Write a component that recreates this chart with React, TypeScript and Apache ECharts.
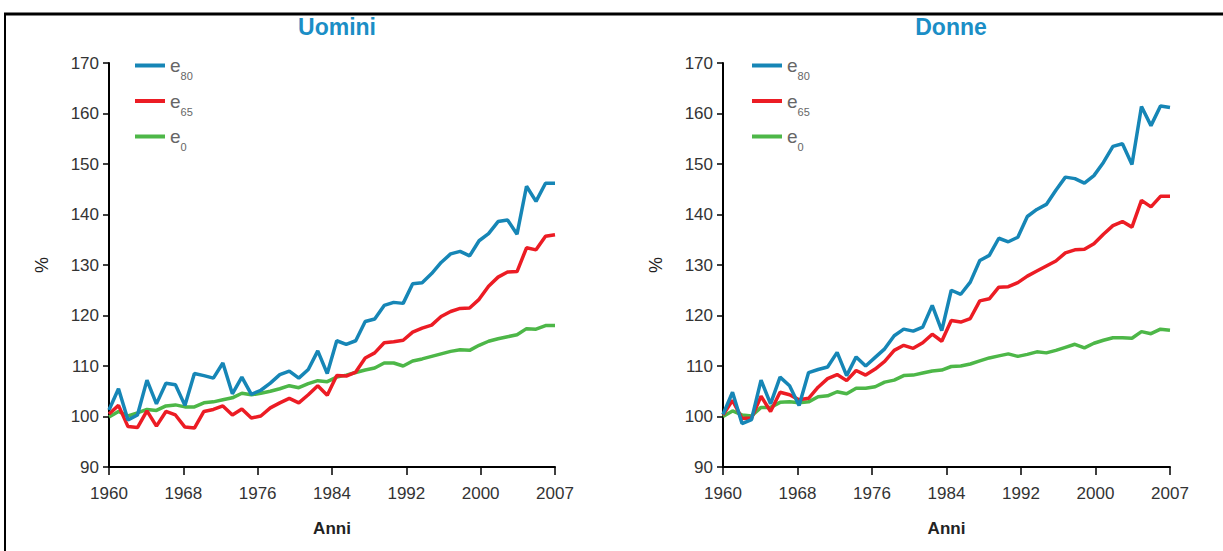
import React, { useEffect, useRef } from "react";
import * as echarts from "echarts";

const years = [
  "1960","1961","1962","1963","1964","1965","1966","1967","1968","1969",
  "1970","1971","1972","1973","1974","1975","1976","1977","1978","1979",
  "1980","1981","1982","1983","1984","1985","1986","1987","1988","1989",
  "1990","1991","1992","1993","1994","1995","1996","1997","1998","1999",
  "2000","2001","2002","2003","2004","2005","2006","2007",
];

const xTickLabels = ["1960", "1968", "1976", "1984", "1992", "2000", "2007"];

const menE80 = [
  101.3, 105.5, 99.3, 100.3, 107.2, 102.5, 106.6, 106.3, 102.2, 108.5,
  108.1, 107.6, 110.6, 104.5, 107.8, 104.4, 105.2, 106.6, 108.3, 109.0,
  107.6, 109.3, 113.0, 108.5, 115.0, 114.3, 115.0, 118.8, 119.3, 122.0,
  122.6, 122.4, 126.3, 126.5, 128.3, 130.5, 132.2, 132.7, 131.8, 134.8,
  136.2, 138.6, 138.9, 136.1, 145.6, 142.6, 146.2, 146.2,
];
const menE65 = [
  100.5, 102.2, 98.0, 97.8, 101.1, 98.1, 101.0, 100.3, 97.9, 97.7,
  101.0, 101.4, 102.1, 100.3, 101.5, 99.7, 100.1, 101.7, 102.7, 103.6,
  102.7, 104.3, 106.1, 104.2, 108.1, 108.0, 108.8, 111.6, 112.6, 114.6,
  114.8, 115.1, 116.7, 117.5, 118.1, 119.8, 120.8, 121.4, 121.5, 123.2,
  125.8, 127.6, 128.6, 128.7, 133.4, 133.0, 135.7, 136.0,
];
const menE0 = [
  99.9, 101.0, 100.1, 100.7, 101.4, 101.2, 102.1, 102.3, 101.9, 101.9,
  102.7, 102.9, 103.3, 103.7, 104.6, 104.3, 104.6, 105.0, 105.5, 106.1,
  105.7, 106.5, 107.1, 106.9, 107.8, 108.2, 108.7, 109.2, 109.6, 110.6,
  110.6, 110.0, 111.0, 111.4, 111.9, 112.4, 112.9, 113.2, 113.1, 114.1,
  114.9, 115.4, 115.8, 116.2, 117.4, 117.3, 118.0, 118.0,
];

const womenE80 = [
  100.4, 104.8, 98.6, 99.4, 107.2, 102.5, 107.8, 106.1, 102.2, 108.7,
  109.3, 109.8, 112.7, 108.1, 111.8, 110.0, 111.7, 113.4, 116.0, 117.3,
  116.9, 117.7, 122.0, 117.0, 125.0, 124.2, 126.6, 130.9, 131.9, 135.3,
  134.6, 135.5, 139.6, 141.0, 142.0, 144.8, 147.4, 147.1, 146.2, 147.7,
  150.3, 153.5, 154.0, 149.9, 161.4, 157.6, 161.5, 161.2,
];
const womenE65 = [
  100.3, 103.2, 99.6, 99.7, 104.0, 101.0, 104.8, 104.3, 103.3, 103.6,
  105.8, 107.5, 108.3, 107.1, 109.1, 108.2, 109.4, 110.9, 113.1, 114.1,
  113.5, 114.6, 116.3, 114.9, 119.0, 118.7, 119.4, 122.9, 123.3, 125.6,
  125.7, 126.5, 127.8, 128.8, 129.8, 130.8, 132.4, 133.0, 133.1, 134.2,
  136.1, 137.8, 138.6, 137.5, 142.8, 141.5, 143.6, 143.6,
];
const womenE0 = [
  100.0, 101.1, 100.3, 100.1, 101.8, 101.8, 102.8, 102.9, 102.7, 102.9,
  103.9, 104.1, 104.9, 104.5, 105.6, 105.6, 105.9, 106.8, 107.2, 108.1,
  108.2, 108.6, 109.0, 109.2, 109.9, 110.0, 110.4, 111.0, 111.6, 112.0,
  112.4, 111.9, 112.3, 112.8, 112.6, 113.1, 113.7, 114.3, 113.6, 114.5,
  115.1, 115.6, 115.6, 115.5, 116.8, 116.4, 117.3, 117.1,
];

const seriesNames = ["e80", "e65", "e0"];
const panelTitles = ["Uomini", "Donne"];

const FONT = "'Liberation Sans', Arial, sans-serif";
const BLUE = "#1686b6";
const RED = "#ec1c24";
const GREEN = "#4db748";
const TITLE_BLUE = "#1b8ec6";

export default function App() {
  const ref = useRef<HTMLDivElement>(null);

  useEffect(() => {
    if (!ref.current) return;
    const chart = echarts.init(ref.current, null, { renderer: "svg" });

    const grids = [
      { left: 109, top: 63, width: 446, height: 404 },
      { left: 723, top: 63, width: 447, height: 404 },
    ];

    const xAxes: any[] = [];
    const yAxes: any[] = [];
    grids.forEach((_, g) => {
      xAxes.push({
        type: "category",
        gridIndex: g,
        data: years,
        boundaryGap: false,
        position: "bottom",
        show: false,
      });
      xAxes.push({
        type: "value",
        gridIndex: g,
        position: "bottom",
        min: 0,
        max: xTickLabels.length - 1,
        interval: 1,
        axisLine: { show: true, onZero: false, lineStyle: { color: "#000", width: 2 } },
        axisTick: { show: true, length: 8, lineStyle: { color: "#000", width: 1.5 } },
        axisLabel: {
          formatter: (v: number) => xTickLabels[Math.round(v)] ?? "",
          fontSize: 17,
          color: "#333",
          fontFamily: FONT,
          margin: 18,
        },
        splitLine: { show: false },
        name: "Anni",
        nameLocation: "middle",
        nameGap: 53,
        nameTextStyle: { fontSize: 17, fontWeight: "bold", color: "#222", fontFamily: FONT },
      });
      yAxes.push({
        type: "value",
        gridIndex: g,
        min: 90,
        max: 170,
        interval: 10,
        axisLine: { show: true, onZero: false, lineStyle: { color: "#000", width: 2 } },
        axisTick: { show: true, length: 6, lineStyle: { color: "#000", width: 1.5 } },
        axisLabel: { fontSize: 17, color: "#333", fontFamily: FONT, margin: 10 },
        splitLine: { show: false },
        name: "%",
        nameLocation: "middle",
        nameGap: 58,
        nameRotate: 90,
        nameTextStyle: { fontSize: 18, color: "#222", fontFamily: FONT },
      });
    });

    const panelData = [
      [menE80, menE65, menE0],
      [womenE80, womenE65, womenE0],
    ];
    const colors = [BLUE, RED, GREEN];
    const series: any[] = [];
    panelData.forEach((arrs, g) => {
      arrs.forEach((arr, k) => {
        series.push({
          type: "line",
          name: seriesNames[k],
          xAxisIndex: g * 2,
          yAxisIndex: g,
          data: arr,
          showSymbol: false,
          symbol: "none",
          lineStyle: { color: colors[k], width: 3.5 },
          itemStyle: { color: colors[k] },
          z: 4 - k,
        });
      });
    });

    const legendCommon = {
      orient: "vertical",
      top: 56,
      padding: 0,
      itemWidth: 30,
      itemHeight: 4,
      itemGap: 10,
      itemTextGap: 11,
      icon: "rect",
      data: seriesNames,
      formatter: (name: string) => `{e|e}{s|${name.slice(1)}}`,
      textStyle: {
        rich: {
          e: { fontSize: 19, lineHeight: 32, color: "#666", fontFamily: FONT },
          s: { fontSize: 11, lineHeight: 12, color: "#666", fontFamily: FONT, verticalAlign: "bottom" },
        },
      },
    };

    chart.setOption({
      animation: false,
      backgroundColor: "#fff",
      title: panelTitles.map((t, i) => ({
        text: t,
        left: i === 0 ? 332 : 946,
        top: 10,
        textAlign: "center",
        textStyle: { fontSize: 23, fontWeight: "bold", color: TITLE_BLUE, fontFamily: FONT },
      })),
      legend: [
        { ...legendCommon, left: 135 },
        { ...legendCommon, left: 752 },
      ],
      grid: grids,
      xAxis: xAxes,
      yAxis: yAxes,
      series,
      graphic: [
        { type: "line", shape: { x1: 4, y1: 14, x2: 1223, y2: 14 }, style: { stroke: "#000", lineWidth: 3 } },
        { type: "line", shape: { x1: 5, y1: 14, x2: 5, y2: 551 }, style: { stroke: "#000", lineWidth: 2 } },
      ],
    });

    return () => chart.dispose();
  }, []);

  return (
    <div
      ref={ref}
      style={{ position: "absolute", left: 0, top: 0, width: 1223, height: 551 }}
    />
  );
}
